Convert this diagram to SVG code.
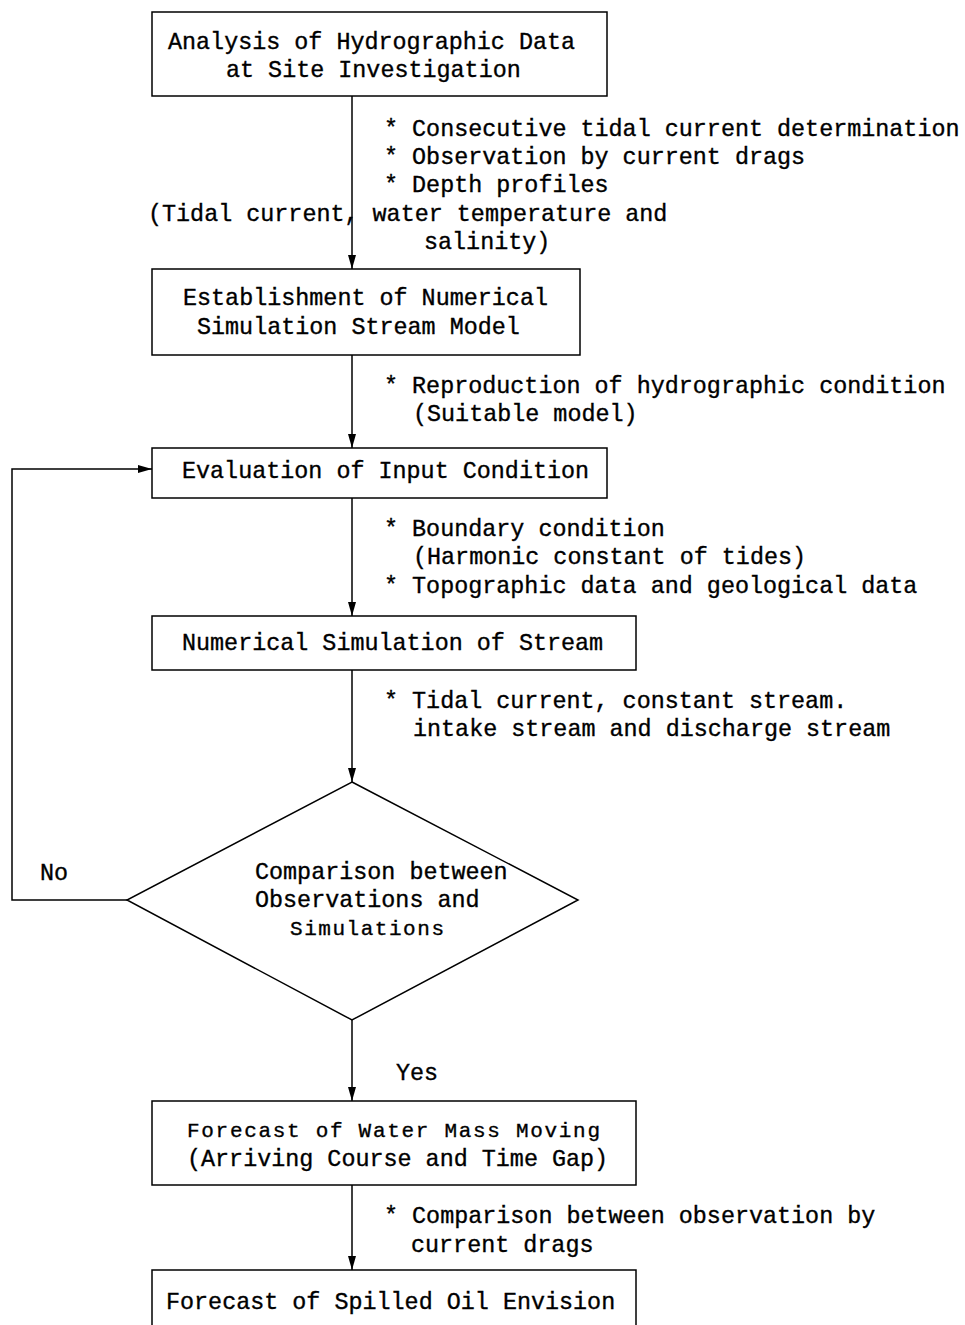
<svg xmlns="http://www.w3.org/2000/svg" width="965" height="1325" viewBox="0 0 965 1325">
<style>
.box{fill:#fff;stroke:#000;stroke-width:1.5}
.ln{fill:none;stroke:#000;stroke-width:1.5}
.t{font-family:"Liberation Mono",monospace;font-size:23.4px;fill:#000;stroke:#000;stroke-width:0.35}
.s{font-size:21px}
</style>
<defs>
<marker id="ah" viewBox="0 0 14 8" refX="14" refY="4" markerWidth="14" markerHeight="8" markerUnits="userSpaceOnUse" orient="auto">
<path d="M0,0 L14,4 L0,8 Z" fill="#000"/>
</marker>
</defs>
<rect width="965" height="1325" fill="#fff"/>
<g id="connectors">
<line class="ln" x1="352" y1="96" x2="352" y2="269" marker-end="url(#ah)"/>
<line class="ln" x1="352" y1="355" x2="352" y2="448" marker-end="url(#ah)"/>
<line class="ln" x1="352" y1="498" x2="352" y2="616" marker-end="url(#ah)"/>
<line class="ln" x1="352" y1="670" x2="352" y2="782" marker-end="url(#ah)"/>
<line class="ln" x1="352" y1="1020" x2="352" y2="1101" marker-end="url(#ah)"/>
<line class="ln" x1="352" y1="1185" x2="352" y2="1270" marker-end="url(#ah)"/>
<polyline class="ln" points="127,900 12,900 12,469 152,469" marker-end="url(#ah)"/>
<text class="t" x="148" y="221">(Tidal current, water temperature and</text>
<text class="t" x="424" y="249">salinity)</text>
<text class="t" x="384" y="136">* Consecutive tidal current determination</text>
<text class="t" x="384" y="164">* Observation by current drags</text>
<text class="t" x="384" y="192">* Depth profiles</text>
<text class="t" x="384" y="393">* Reproduction of hydrographic condition</text>
<text class="t" x="413" y="421">(Suitable model)</text>
<text class="t" x="384" y="536">* Boundary condition</text>
<text class="t" x="413" y="564">(Harmonic constant of tides)</text>
<text class="t" x="384" y="593">* Topographic data and geological data</text>
<text class="t" x="384" y="708">* Tidal current, constant stream.</text>
<text class="t" x="413" y="736">intake stream and discharge stream</text>
<text class="t" x="40" y="880">No</text>
<text class="t" x="396" y="1080">Yes</text>
<text class="t" x="384" y="1223">* Comparison between observation by</text>
<text class="t" x="411" y="1252">current drags</text>
</g>
<g id="n1">
<rect class="box" x="152" y="12" width="455" height="84"/>
<text class="t" x="168" y="49">Analysis of Hydrographic Data</text>
<text class="t" x="226" y="77">at Site Investigation</text>
</g>
<g id="n2">
<rect class="box" x="152" y="269" width="428" height="86"/>
<text class="t" x="183" y="305">Establishment of Numerical</text>
<text class="t" x="197" y="334">Simulation Stream Model</text>
</g>
<g id="n3">
<rect class="box" x="152" y="448" width="455" height="50"/>
<text class="t" x="182" y="478">Evaluation of Input Condition</text>
</g>
<g id="n4">
<rect class="box" x="152" y="616" width="484" height="54"/>
<text class="t" x="182" y="650">Numerical Simulation of Stream</text>
</g>
<g id="n5">
<polygon class="box" points="352,782 578,900 352,1020 127,900"/>
<text class="t" x="255" y="879">Comparison between</text>
<text class="t" x="255" y="907">Observations and</text>
<text class="t s" x="290" y="935" textLength="154">Simulations</text>
</g>
<g id="n6">
<rect class="box" x="152" y="1101" width="484" height="84"/>
<text class="t s" x="187" y="1137" textLength="413">Forecast of Water Mass Moving</text>
<text class="t" x="187" y="1166">(Arriving Course and Time Gap)</text>
</g>
<g id="n7">
<rect class="box" x="152" y="1270" width="484" height="80"/>
<text class="t" x="166" y="1309">Forecast of Spilled Oil Envision</text>
</g>
</svg>
